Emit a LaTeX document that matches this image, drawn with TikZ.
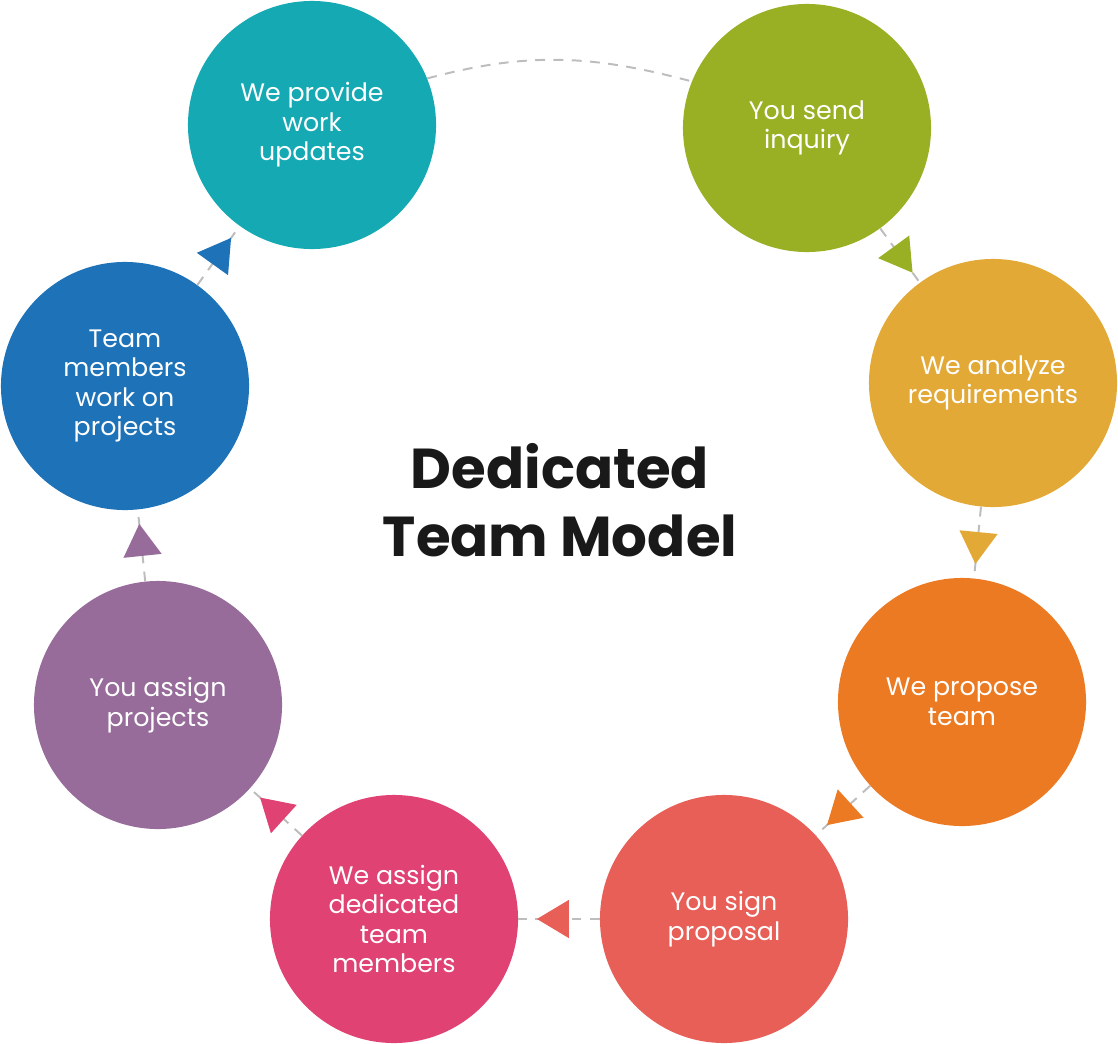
\documentclass[tikz,border=0pt]{standalone}
\usepackage{fontspec}
\setmainfont{Poppins}
\usetikzlibrary{arrows.meta,decorations.markings}
\definecolor{cgreen}{HTML}{9AB024}
\definecolor{cyellow}{HTML}{E2A937}
\definecolor{corange}{HTML}{EC7A22}
\definecolor{cred}{HTML}{E85F57}
\definecolor{cpink}{HTML}{E04274}
\definecolor{cpurple}{HTML}{976C9B}
\definecolor{cblue}{HTML}{1D72B8}
\definecolor{cteal}{HTML}{14A9B3}
\definecolor{dashgrey}{HTML}{BDBDBD}
\begin{document}
\begin{tikzpicture}[x=0.025cm,y=-0.025cm,
  stepnode/.style={circle,fill=#1,minimum size=6.2cm,inner sep=0pt,
    text=white,align=center,font=\fontsize{18}{21}\selectfont},
  link/.style={dashgrey,line width=1.4pt,dash pattern=on 7pt off 6pt,
    postaction={decorate},decoration={markings,mark=at position 0.55 with
      {\fill[#1] (0.45cm,0) -- (-0.35cm,0.48cm) -- (-0.35cm,-0.48cm) -- cycle;}}}
]
\useasboundingbox (0,0) rectangle (1118,1044);

\node[stepnode=cgreen]  (S1) at (807,128) {You send\\inquiry};
\node[stepnode=cyellow] (S2) at (993,383) {We analyze\\requirements};
\node[stepnode=corange] (S3) at (962,702) {We propose\\team};
\node[stepnode=cred]    (S4) at (724,919) {You sign\\proposal};
\node[stepnode=cpink]   (S5) at (394,919) {We assign\\dedicated\\team\\members};
\node[stepnode=cpurple] (S6) at (158,705) {You assign\\projects};
\node[stepnode=cblue]   (S7) at (125,386) {Team\\members\\work on\\projects};
\node[stepnode=cteal]   (S8) at (312,125) {We provide\\work\\updates};

\node[font=\fontsize{40}{48}\selectfont\bfseries,text=black!90,align=center]
  (title) at (560,500) {Dedicated\\Team Model};

\draw[link=cgreen]  (S1) -- (S2);
\draw[link=cyellow] (S2) -- (S3);
\draw[link=corange] (S3) -- (S4);
\draw[link=cred]    (S4) -- (S5);
\draw[link=cpink]   (S5) -- (S6);
\draw[link=cpurple] (S6) -- (S7);
\draw[link=cblue]   (S7) -- (S8);
\draw[dashgrey,line width=1.4pt,dash pattern=on 7pt off 6pt]
  (S8.22) to[out=15,in=165] (S1.158);

\end{tikzpicture}
\end{document}
